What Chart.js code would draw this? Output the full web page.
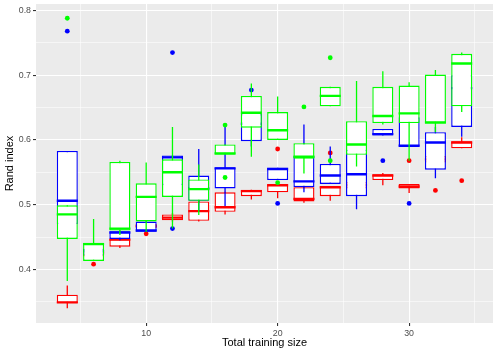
<!DOCTYPE html>
<html>
<head>
<meta charset="utf-8">
<script src="https://cdn.jsdelivr.net/npm/chart.js@4/dist/chart.umd.min.js"></script>
<style>
  html, body { margin: 0; padding: 0; background: #fff; }
</style>
</head>
<body>
<canvas id="chart" width="498" height="355"></canvas>
<script>
// x positions (total training size)
const sizes = [4, 6, 8, 10, 12, 14, 16, 18, 20, 22, 24, 26, 28, 30, 32, 34];

// red series: whisker low, q1, median, q3, whisker high
const redLo  = [0.340, 0.416, 0.433, 0.462, 0.474, 0.474, 0.485, 0.508, 0.510, 0.503, 0.506, 0.520, 0.530, 0.518, 0.560, 0.587];
const redQ1  = [0.348, 0.420, 0.435, 0.464, 0.476, 0.475, 0.489, 0.513, 0.519, 0.505, 0.513, 0.525, 0.538, 0.525, 0.565, 0.587];
const redMed = [0.349, 0.425, 0.446, 0.467, 0.480, 0.490, 0.496, 0.521, 0.530, 0.509, 0.527, 0.530, 0.545, 0.528, 0.570, 0.596];
const redQ3  = [0.361, 0.430, 0.447, 0.470, 0.485, 0.505, 0.519, 0.523, 0.531, 0.527, 0.528, 0.535, 0.547, 0.532, 0.575, 0.598];
const redHi  = [0.375, 0.434, 0.447, 0.472, 0.487, 0.510, 0.520, 0.523, 0.535, 0.527, 0.528, 0.540, 0.549, 0.532, 0.580, 0.604];
const redOutX = [6, 10, 20, 24, 30, 32, 34];
const redOutY = [0.408, 0.455, 0.586, 0.580, 0.568, 0.522, 0.537];

// blue series
const blueLo  = [0.455, 0.418, 0.445, 0.458, 0.520, 0.490, 0.498, 0.590, 0.538, 0.519, 0.532, 0.493, 0.607, 0.590, 0.541, 0.605];
const blueQ1  = [0.470, 0.422, 0.447, 0.458, 0.530, 0.506, 0.525, 0.598, 0.538, 0.527, 0.532, 0.513, 0.607, 0.590, 0.554, 0.620];
const blueMed = [0.506, 0.428, 0.457, 0.460, 0.573, 0.525, 0.556, 0.625, 0.555, 0.536, 0.545, 0.547, 0.609, 0.591, 0.596, 0.680];
const blueQ3  = [0.583, 0.432, 0.459, 0.474, 0.576, 0.545, 0.558, 0.640, 0.557, 0.575, 0.563, 0.585, 0.617, 0.635, 0.612, 0.700];
const blueHi  = [0.583, 0.436, 0.460, 0.474, 0.576, 0.586, 0.621, 0.655, 0.557, 0.624, 0.590, 0.600, 0.617, 0.650, 0.620, 0.710];
const blueOutX = [4, 12, 12, 18, 20, 28, 30];
const blueOutY = [0.768, 0.735, 0.463, 0.677, 0.502, 0.568, 0.502];

// green series
const greenLo  = [0.382, 0.413, 0.453, 0.458, 0.463, 0.484, 0.578, 0.574, 0.600, 0.548, 0.652, 0.559, 0.624, 0.568, 0.612, 0.643];
const greenQ1  = [0.447, 0.413, 0.460, 0.474, 0.512, 0.506, 0.578, 0.619, 0.600, 0.571, 0.652, 0.577, 0.626, 0.626, 0.626, 0.652];
const greenMed = [0.485, 0.439, 0.463, 0.512, 0.550, 0.524, 0.579, 0.642, 0.615, 0.574, 0.668, 0.593, 0.637, 0.641, 0.627, 0.718];
const greenQ3  = [0.499, 0.441, 0.566, 0.533, 0.570, 0.539, 0.593, 0.668, 0.643, 0.595, 0.682, 0.629, 0.682, 0.684, 0.701, 0.733];
const greenHi  = [0.499, 0.478, 0.568, 0.565, 0.620, 0.562, 0.593, 0.687, 0.667, 0.595, 0.682, 0.691, 0.706, 0.689, 0.708, 0.735];
const greenOutX = [4, 16, 16, 20, 22, 24, 24];
const greenOutY = [0.788, 0.623, 0.542, 0.534, 0.651, 0.727, 0.568];

const HALF = 0.8; // half box width in axis units (2 * 0.8 / 2)

function whiskers(lo, hi) {
  const pts = [];
  sizes.forEach((x, i) => { pts.push({x, y: lo[i]}, {x, y: hi[i]}, {x, y: null}); });
  return pts;
}
function medians(med) {
  const pts = [];
  sizes.forEach((x, i) => { pts.push({x: x - HALF, y: med[i]}, {x: x + HALF, y: med[i]}, {x, y: null}); });
  return pts;
}
function boxes(q1, q3) {
  return sizes.map((x, i) => ({x, y: [q1[i], q3[i]]}));
}
function points(xs, ys) {
  return xs.map((x, i) => ({x, y: ys[i]}));
}

// one group = outliers, whiskers, box, median (ggplot draw order)
function group(color, base, lo, q1, med, q3, hi, ox, oy) {
  return [
    { type: 'scatter', data: points(ox, oy), order: base + 3,
      pointRadius: 2.4, pointBackgroundColor: color, pointBorderWidth: 0, borderColor: color },
    { type: 'line', data: whiskers(lo, hi), order: base + 2,
      borderColor: color, borderWidth: 1.3, pointRadius: 0, spanGaps: false, tension: 0 },
    { type: 'bar', data: boxes(q1, q3), order: base + 1,
      backgroundColor: '#FFFFFF', borderColor: color, borderWidth: 1.4, borderSkipped: false,
      grouped: false, barPercentage: 0.8, categoryPercentage: 1 },
    { type: 'line', data: medians(med), order: base,
      borderColor: color, borderWidth: 2.4, pointRadius: 0, spanGaps: false, tension: 0, borderCapStyle: 'butt' }
  ];
}

const panelBg = {
  id: 'panelBg',
  beforeDraw(chart) {
    const {ctx, chartArea: a} = chart;
    ctx.save();
    ctx.fillStyle = '#EBEBEB';
    ctx.fillRect(a.left, a.top, a.right - a.left, a.bottom - a.top);
    ctx.restore();
  }
};

const isMajorX = v => Math.abs(v % 10) < 1e-6;
const isMajorY = v => Math.round(v * 20) % 2 === 0;
const tickFont = { family: 'Liberation Sans', size: 8.8 };
const titleFont = { family: 'Liberation Sans', size: 11 };

function noEdgePadding(s) {
  s.paddingTop = 0;
  s.paddingBottom = 0;
  s.paddingLeft = 0;
  s.paddingRight = 0;
}

new Chart(document.getElementById('chart'), {
  type: 'bar',
  data: {
    datasets: [
      ...group('#FF0000', 30, redLo, redQ1, redMed, redQ3, redHi, redOutX, redOutY),
      ...group('#0000FF', 20, blueLo, blueQ1, blueMed, blueQ3, blueHi, blueOutX, blueOutY),
      ...group('#00FF00', 10, greenLo, greenQ1, greenMed, greenQ3, greenHi, greenOutX, greenOutY)
    ]
  },
  options: {
    responsive: false,
    animation: false,
    layout: { padding: { top: 4, right: 5, left: 0, bottom: 0 } },
    plugins: { legend: { display: false }, tooltip: { enabled: false } },
    scales: {
      x: {
        type: 'linear',
        min: 1.62,
        max: 36.38,
        offset: false,
        border: { display: false },
        grid: {
          offset: false,
          color: '#FFFFFF',
          lineWidth: c => isMajorX(c.tick.value) ? 1.1 : 0.55,
          tickColor: c => isMajorX(c.tick.value) ? '#333333' : 'rgba(0,0,0,0)',
          tickLength: 3,
          tickWidth: 1.1
        },
        ticks: {
          stepSize: 5,
          includeBounds: false,
          autoSkip: false,
          maxRotation: 0,
          padding: 2,
          color: '#4D4D4D',
          font: tickFont,
          callback: v => isMajorX(v) ? String(v) : ''
        },
        title: { display: true, text: 'Total training size', color: '#000000', font: titleFont,
                 padding: { top: 0, bottom: 5 } },
        afterFit: s => { s.height = 32; noEdgePadding(s); }
      },
      y: {
        type: 'linear',
        min: 0.3172,
        max: 0.81,
        border: { display: false },
        grid: {
          color: '#FFFFFF',
          lineWidth: c => isMajorY(c.tick.value) ? 1.1 : 0.55,
          tickColor: c => isMajorY(c.tick.value) ? '#333333' : 'rgba(0,0,0,0)',
          tickLength: 3,
          tickWidth: 1.1
        },
        ticks: {
          stepSize: 0.05,
          includeBounds: false,
          padding: 2,
          color: '#4D4D4D',
          font: tickFont,
          callback: v => isMajorY(v) ? v.toFixed(1) : ''
        },
        title: { display: true, text: 'Rand index', color: '#000000', font: titleFont,
                 padding: { top: 3, bottom: 0 } },
        afterFit: s => { s.width = 36; noEdgePadding(s); }
      }
    }
  },
  plugins: [panelBg]
});
</script>
</body>
</html>
